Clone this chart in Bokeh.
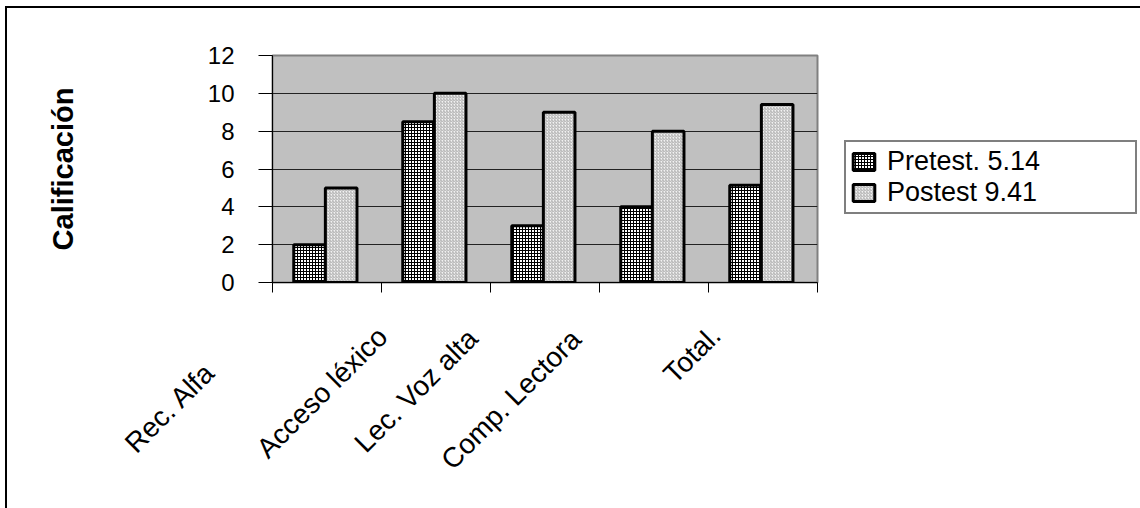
import numpy as np
from bokeh.plotting import figure
from bokeh.models import Range1d, FixedTicker, Legend, LegendItem, Label, ColumnDataSource
from bokeh.embed import file_html
from bokeh.resources import INLINE

# ---- data ----
categories = ["Rec. Alfa", "Acceso léxico", "Lec. Voz alta", "Comp. Lectora", "Total."]
pretest = [2, 8.5, 3, 4, 5.14]
postest = [5, 10, 9, 8, 9.41]
y_ticks = [0, 2, 4, 6, 8, 10, 12]
series_names = ["Pretest. 5.14", "Postest 9.41"]

# ---- style (not data) ----
FONT = "Liberation Sans"
label_dx = [-157, -114, -129, -143, -71]   # px offsets of rotated category label centres
label_dy = [-125, -110, -108, -117, -72]

n = len(categories)
centers = np.arange(n) + 0.5
bar_w = 0.29

p = figure(frame_width=545, frame_height=227,
           x_range=Range1d(0, n), y_range=Range1d(0, 12),
           output_backend="svg", toolbar_location=None,
           min_border_left=265, min_border_right=321,
           min_border_top=47, min_border_bottom=224,
           background_fill_color="#c0c0c0", border_fill_color="white",
           outline_line_color="#808080", outline_line_width=2)
p.styles = {"margin-left": "5px", "margin-top": "6px",
            "border-top": "2px solid black", "border-left": "2px solid black"}

src = ColumnDataSource(dict(x_pre=centers - bar_w / 2 - 0.015,
                            x_post=centers + bar_w / 2 - 0.015,
                            pre=pretest, post=postest))
r1 = p.vbar(x="x_pre", top="pre", width=bar_w, source=src,
            fill_color="white", hatch_pattern="+", hatch_scale=3, hatch_weight=1,
            hatch_color="black", line_color="black", line_width=3)
r2 = p.vbar(x="x_post", top="post", width=bar_w, source=src,
            fill_color="#f2f2f2", hatch_pattern="/", hatch_scale=3, hatch_weight=0.8,
            hatch_color="#9a9a9a", line_color="black", line_width=3)

# grid
p.xgrid.visible = False
p.ygrid.ticker = FixedTicker(ticks=y_ticks)
p.ygrid.grid_line_color = "#222222"
p.ygrid.grid_line_width = 1

# y axis
ya = p.yaxis[0]
ya.ticker = FixedTicker(ticks=y_ticks)
ya.major_tick_out = 14
ya.major_tick_in = 0
ya.minor_tick_out = 0
ya.minor_tick_in = 0
ya.major_tick_line_color = "black"
ya.axis_line_color = "black"
ya.major_label_text_font = FONT
ya.major_label_text_font_size = "24px"
ya.major_label_text_color = "black"
ya.major_label_standoff = 24
ya.axis_label = "Calificación"
ya.axis_label_text_font = FONT
ya.axis_label_text_font_style = "bold"
ya.axis_label_text_font_size = "29px"
ya.axis_label_text_color = "black"
ya.axis_label_standoff = 126

# x axis: ticks at category boundaries only
xa = p.xaxis[0]
xa.ticker = FixedTicker(ticks=[], minor_ticks=list(range(n + 1)))
xa.major_tick_out = 0
xa.major_tick_in = 0
xa.minor_tick_out = 10
xa.minor_tick_in = 0
xa.minor_tick_line_color = "black"
xa.axis_line_color = "black"
xa.major_label_text_font_size = "0px"

# rotated category labels (in the below panel so they are not clipped)
for i, cat in enumerate(categories):
    p.add_layout(Label(x=centers[i], y=0, x_units="data", y_units="data",
                       x_offset=label_dx[i], y_offset=label_dy[i],
                       text=cat, angle=45, angle_units="deg",
                       text_align="center", text_baseline="middle",
                       text_font=FONT, text_font_size="28px", text_color="black"),
                 "below")

legend = Legend(items=[LegendItem(label=series_names[0], renderers=[r1]),
                       LegendItem(label=series_names[1], renderers=[r2])],
                location=(27, 68), margin=0, padding=4, spacing=0,
                glyph_width=27, glyph_height=21, label_standoff=10,
                label_width=244, label_height=31,
                label_text_font=FONT, label_text_font_size="27px",
                label_text_color="black",
                border_line_color="black", border_line_width=2,
                background_fill_color="white", background_fill_alpha=1)
p.add_layout(legend, "right")

open("out.html", "w").write(file_html(p, INLINE))
